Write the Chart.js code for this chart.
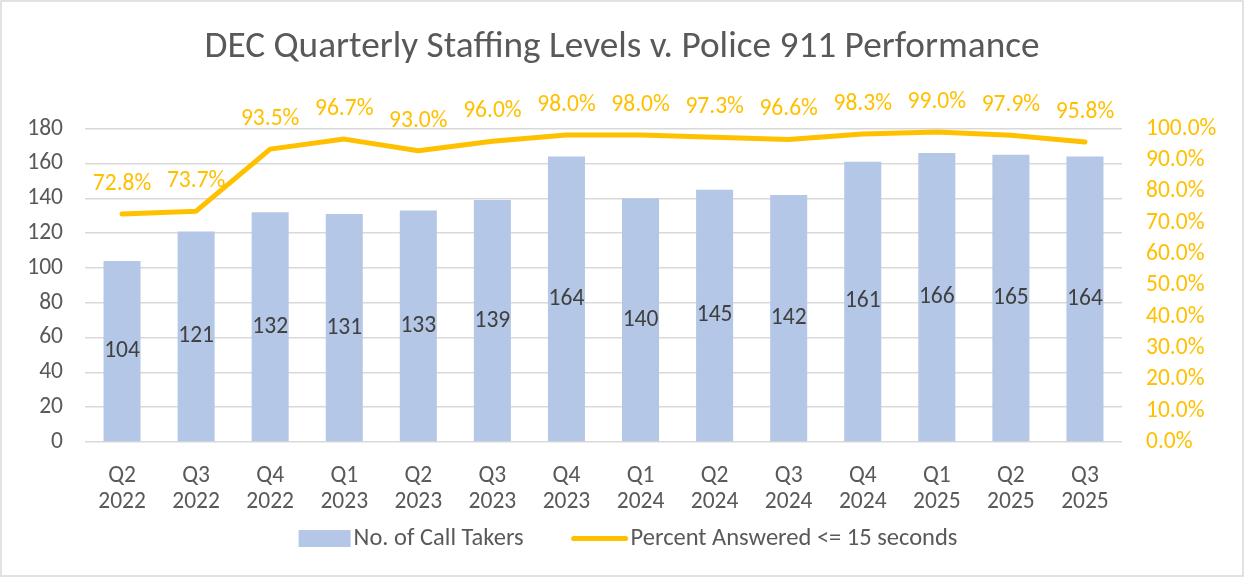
<!DOCTYPE html>
<html>
<head>
<meta charset="utf-8">
<script src="https://cdn.jsdelivr.net/npm/chart.js@4.4.1/dist/chart.umd.min.js"></script>
<style>
  html, body { margin: 0; padding: 0; background: #ffffff; }
  #wrap { width: 1244px; height: 577px; position: relative; }
</style>
</head>
<body>
<div id="wrap"><canvas id="c" width="1244" height="577"></canvas></div>
<script>
const quarters = ["Q2","Q3","Q4","Q1","Q2","Q3","Q4","Q1","Q2","Q3","Q4","Q1","Q2","Q3"];
const years = ["2022","2022","2022","2023","2023","2023","2023","2024","2024","2024","2024","2025","2025","2025"];
const callTakers = [104,121,132,131,133,139,164,140,145,142,161,166,165,164];
const pctAnswered = [0.728,0.737,0.935,0.967,0.930,0.960,0.980,0.980,0.973,0.966,0.983,0.990,0.979,0.958];
const leftTicks = [0,20,40,60,80,100,120,140,160,180];
const rightTicks = [0,0.1,0.2,0.3,0.4,0.5,0.6,0.7,0.8,0.9,1.0];

const FONT = "Carlito, Calibri, Lato, sans-serif";
const GREY = "#595959";
const GOLD = "#FFC000";
const BLUE = "#B4C7E7";
const FS = 23.5;

const labels = quarters.map((q, i) => [q, years[i]]);

const borderPlugin = {
  id: 'borderPlugin',
  beforeDraw(chart) {
    const ctx = chart.ctx;
    ctx.save();
    ctx.fillStyle = '#ffffff';
    ctx.fillRect(0, 0, chart.width, chart.height);
    ctx.strokeStyle = '#D9D9D9';
    ctx.lineWidth = 1.5;
    ctx.strokeRect(1, 1, chart.width - 2, chart.height - 2);
    ctx.restore();
  }
};

const valueLabels = {
  id: 'valueLabels',
  afterDatasetsDraw(chart) {
    const ctx = chart.ctx;
    ctx.save();
    ctx.font = FS + "px " + FONT;
    ctx.textAlign = 'center';
    ctx.textBaseline = 'middle';
    const barMeta = chart.getDatasetMeta(0);
    ctx.fillStyle = '#404040';
    barMeta.data.forEach((el, i) => {
      ctx.fillText(String(callTakers[i]), el.x, (el.y + el.base) / 2);
    });
    const lineMeta = chart.getDatasetMeta(1);
    ctx.fillStyle = GOLD;
    lineMeta.data.forEach((el, i) => {
      ctx.fillText((pctAnswered[i] * 100).toFixed(1) + '%', el.x, el.y - 30);
    });
    ctx.restore();
  }
};

const customLegend = {
  id: 'customLegend',
  afterDraw(chart) {
    const ctx = chart.ctx;
    const ds = chart.data.datasets;
    ctx.save();
    ctx.font = "24.5px " + FONT;
    ctx.textBaseline = 'middle';
    ctx.textAlign = 'left';
    const y = 538.5;
    const w1 = ctx.measureText(ds[0].label).width;
    const w2 = ctx.measureText(ds[1].label).width;
    const total = 52 + 3 + w1 + 48 + 56 + 3 + w2;
    let x = 628 - total / 2;
    ctx.fillStyle = BLUE;
    ctx.fillRect(x, y - 8.5, 52, 17);
    x += 55;
    ctx.fillStyle = GREY;
    ctx.fillText(ds[0].label, x, y);
    x += w1 + 48;
    ctx.strokeStyle = GOLD;
    ctx.lineWidth = 5;
    ctx.lineCap = 'round';
    ctx.beginPath();
    ctx.moveTo(x + 2, y);
    ctx.lineTo(x + 54, y);
    ctx.stroke();
    x += 59;
    ctx.fillText(ds[1].label, x, y);
    ctx.restore();
  }
};

new Chart(document.getElementById('c'), {
  data: {
    labels: labels,
    datasets: [
      {
        type: 'bar',
        label: 'No. of Call Takers',
        data: callTakers,
        backgroundColor: BLUE,
        borderWidth: 0,
        categoryPercentage: 1.0,
        barPercentage: 0.5,
        yAxisID: 'y',
        order: 2
      },
      {
        type: 'line',
        label: 'Percent Answered <= 15 seconds',
        data: pctAnswered,
        borderColor: GOLD,
        backgroundColor: GOLD,
        borderWidth: 5,
        borderCapStyle: 'round',
        borderJoinStyle: 'round',
        pointRadius: 0,
        tension: 0,
        fill: false,
        yAxisID: 'y1',
        order: 1
      }
    ]
  },
  options: {
    responsive: false,
    animation: false,
    devicePixelRatio: 1,
    layout: { padding: { top: 0, bottom: 55, left: 0, right: 0 } },
    plugins: {
      title: {
        display: true,
        text: 'DEC Quarterly Staffing Levels v. Police 911 Performance',
        color: GREY,
        font: { family: FONT, size: 37.3, weight: 'normal', lineHeight: 1.2 },
        padding: { top: 25, bottom: 59 }
      },
      legend: { display: false },
      tooltip: { enabled: false }
    },
    scales: {
      x: {
        grid: { display: false, drawTicks: false },
        border: { display: false },
        afterFit(scale) { scale.height = 80; },
        ticks: { color: GREY, font: { family: FONT, size: FS, lineHeight: 1.12 }, padding: 21, maxRotation: 0, autoSkip: false }
      },
      y: {
        position: 'left',
        min: 0, max: 180,
        afterBuildTicks(scale) { scale.ticks = leftTicks.map(v => ({ value: v })); },
        afterFit(scale) { scale.width = 85; },
        grid: { color: '#D9D9D9', lineWidth: 1.5, drawTicks: false },
        border: { display: false },
        ticks: { color: GREY, font: { family: FONT, size: FS }, padding: 22, autoSkip: false }
      },
      y1: {
        position: 'right',
        min: 0, max: 1,
        afterBuildTicks(scale) { scale.ticks = rightTicks.map(v => ({ value: v })); },
        afterFit(scale) { scale.width = 122; },
        grid: { display: false, drawTicks: false },
        border: { display: false },
        ticks: { color: GOLD, font: { family: FONT, size: FS }, padding: 24, autoSkip: false,
          callback: (v) => (v * 100).toFixed(1) + '%' }
      }
    }
  },
  plugins: [borderPlugin, valueLabels, customLegend]
});
</script>
</body>
</html>
